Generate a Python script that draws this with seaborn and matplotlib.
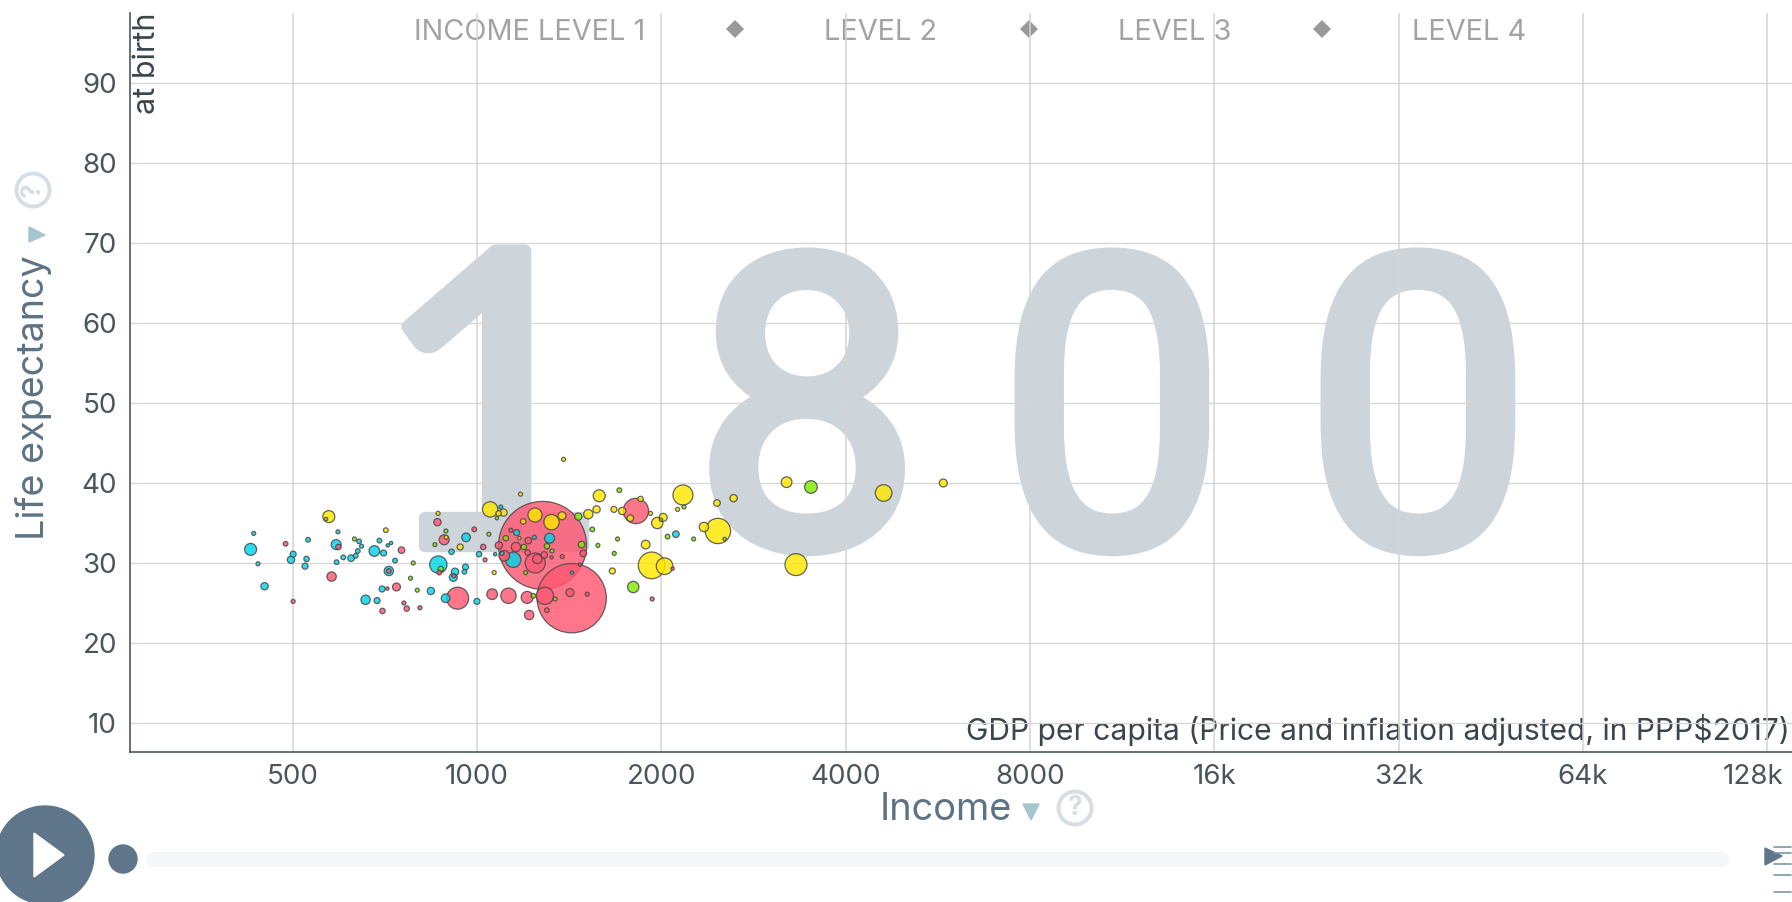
import matplotlib
matplotlib.use("Agg")
import matplotlib.pyplot as plt
import matplotlib.patheffects as pe
from matplotlib.patches import Circle, FancyBboxPatch, Polygon
from matplotlib.transforms import ScaledTranslation
import seaborn as sns
import pandas as pd

# values: income, life expectancy, population (millions)
africa_income = [427, 432, 439, 450, 501, 497, 530, 527, 524, 593, 589, 590, 605, 623, 634, 642, 648, 639, 680, 704,
                 693, 715, 724, 735, 718, 700, 658, 687, 841, 960, 909, 865, 921, 958, 954, 915, 889, 1000, 1008, 1094,
                 1071, 1314, 1146, 1161, 1241, 2113, 1429, 1099]
africa_life = [31.7, 33.7, 29.9, 27.1, 31.1, 30.4, 32.9, 30.5, 29.6, 33.9, 32.3, 30.1, 30.7, 30.6, 30.9, 32.7, 32.1, 31.5, 31.5, 31.25,
               32.8, 32.2, 32.5, 30.3, 29.0, 26.75, 25.4, 25.3, 26.5, 33.2, 31.4, 29.8, 28.9, 29.5, 28.9, 28.2, 25.6, 25.2, 31.1, 37.0,
               31.1, 33.1, 30.4, 33.8, 33.2, 33.6, 28.8, 31.2]
africa_pop = [5.9, 0.66, 0.66, 2.2, 1.5, 2.2, 0.9, 1.2, 1.5, 0.66, 4.1, 0.9, 0.9, 1.8, 0.9, 0.9, 0.66, 0.9, 4.7, 1.5,
              0.9, 0.46, 0.46, 0.9, 3.6, 1.5, 3.6, 1.5, 2.2, 3.1, 1.2, 12.4, 2.2, 1.5, 0.9, 2.6, 3.1, 1.5, 1.2, 0.66,
              0.46, 4.1, 9.7, 1.5, 0.66, 1.8, 0.46, 0.66]

asia_income = [487, 501, 594, 579, 753, 718, 739, 714, 701, 760, 768, 807, 862, 884, 990, 868, 917, 930, 1059, 1126,
               1208, 1217, 1024, 1031, 1280, 1428, 1136, 1213, 1158, 1245, 1255, 1086, 1108, 1210, 1288, 1378, 1324, 1492, 1818, 2087,
               1933, 1291, 1419, 1514, 1473, 1301]
asia_life = [32.4, 25.2, 32.0, 28.3, 31.6, 29.0, 27.0, 26.8, 24.0, 25.0, 24.3, 24.4, 35.1, 32.9, 34.2, 28.8, 28.4, 25.6, 26.1, 25.9,
             25.7, 23.5, 32.0, 30.4, 32.2, 25.6, 34.1, 32.8, 32.0, 30.0, 30.5, 32.2, 30.9, 31.3, 31.0, 30.8, 30.7, 31.2, 36.5, 29.3,
             25.5, 25.9, 26.3, 26.1, 29.8, 24.1]
asia_pop = [0.9, 0.66, 1.2, 3.6, 1.8, 0.9, 2.6, 0.46, 1.2, 0.66, 1.2, 0.66, 2.2, 4.1, 0.9, 0.9, 0.66, 19.9, 4.7, 9.7,
            5.9, 3.6, 1.2, 0.66, 319, 198, 0.66, 1.8, 3.6, 16.5, 3.6, 2.2, 4.7, 1.2, 1.8, 0.66, 0.46, 1.8, 26.4, 0.46,
            0.66, 12.4, 2.6, 0.66, 0.46, 0.9]

americas_income = [567, 631, 787, 779, 799, 890, 854, 873, 1046, 1078, 1193, 1115, 1301, 1326, 1482, 1464, 1543, 1576, 1697, 1676,
                   1708, 1998, 2048, 2259, 2178, 2538, 1800, 1342, 1236, 1201, 3511]
americas_life = [35.5, 33.0, 30.0, 28.1, 26.6, 34.0, 32.3, 29.25, 33.6, 35.6, 32.0, 33.1, 32.1, 31.5, 32.3, 35.8, 34.2, 32.2, 33.0, 31.2,
                 39.1, 35.4, 33.3, 33.0, 37.0, 33.0, 27.0, 25.5, 25.9, 28.8, 39.5]
americas_pop = [0.46, 0.66, 0.66, 0.66, 0.66, 0.66, 0.66, 1.2, 0.66, 0.46, 1.2, 1.2, 1.2, 0.66, 1.8, 2.2, 0.9, 0.66, 0.66, 0.66,
                0.9, 0.46, 0.9, 0.66, 0.66, 0.46, 5.3, 0.66, 0.9, 0.66, 6.6]

europe_income = [573, 710, 864, 891, 939, 1067, 1051, 1105, 1085, 1178, 1244, 1324, 1377, 1190, 1173, 1520, 1568, 1674, 1727, 1584,
                 1385, 1850, 1780, 1921, 1970, 2015, 1886, 1929, 2025, 2170, 2127, 2466, 2625, 2348, 2475, 1664, 3204, 4615, 5775, 3319]
europe_life = [35.8, 34.1, 36.2, 33.2, 32.0, 28.8, 36.7, 36.3, 36.2, 38.6, 36.0, 35.1, 35.9, 35.2, 33.1, 36.1, 36.7, 36.7, 36.5, 38.4,
               42.96, 38.0, 35.6, 36.2, 35.0, 35.7, 32.3, 29.7, 29.6, 38.5, 36.7, 37.5, 38.1, 34.5, 34.0, 29.0, 40.1, 38.75, 40.0, 29.8]
europe_pop = [5.9, 0.9, 0.66, 0.66, 1.5, 0.66, 9.7, 2.2, 1.2, 0.66, 8.1, 9.7, 2.6, 1.2, 0.46, 3.6, 2.2, 1.5, 2.2, 5.9,
              0.66, 1.2, 1.8, 0.66, 5.3, 2.6, 3.1, 29.3, 11.4, 16.5, 0.66, 1.8, 2.2, 3.6, 26.4, 1.5, 4.7, 11.4, 2.6, 19.9]

x_ticks = [500, 1000, 2000, 4000, 8000, 16000, 32000, 64000, 128000]
x_tick_labels = ["500", "1000", "2000", "4000", "8000", "16k", "32k", "64k", "128k"]
y_ticks = [10, 20, 30, 40, 50, 60, 70, 80, 90]
year_digits = ["1", "8", "0", "0"]
level_labels = ["INCOME LEVEL 1", "LEVEL 2", "LEVEL 3", "LEVEL 4"]

region_colors = {"africa": "#00d5e9", "asia": "#ff5872", "americas": "#7feb00", "europe": "#ffe700"}

frames = []
for name, inc, life, pop in [("africa", africa_income, africa_life, africa_pop),
                             ("asia", asia_income, asia_life, asia_pop),
                             ("americas", americas_income, americas_life, americas_pop),
                             ("europe", europe_income, europe_life, europe_pop)]:
    frames.append(pd.DataFrame({"income": inc, "life": life, "pop": pop, "region": name}))
# big bubbles first so the small ones stay on top
df = pd.concat(frames).sort_values("pop", ascending=False)

sns.set_theme(style="white")
plt.rcParams["font.family"] = ["Inter", "DejaVu Sans"]

W, H = 1792, 902
fig = plt.figure(figsize=(W / 100, H / 100), dpi=100)

# page layer in pixel coordinates, for the year and the player controls
page = fig.add_axes([0, 0, 1, 1], zorder=0)
page.set_xlim(0, W)
page.set_ylim(H, 0)
page.axis("off")

ax = fig.add_axes([129.5 / W, 1 - 751.7 / H, (1791.5 - 129.5) / W, (751.7 - 13) / H], zorder=1)
ax.patch.set_visible(False)

sns.scatterplot(data=df, x="income", y="life", hue="region", palette=region_colors,
                size="pop", sizes=(12.57 * 0.46, 12.57 * 319), size_norm=(0.46, 319),
                alpha=0.82, edgecolor="#444444", linewidth=0.9, legend=False, zorder=3, ax=ax)

ax.set_xscale("log")
ax.set_xlim(270.8, 140200)
ax.set_ylim(6.41, 98.75)
ax.set_xticks(x_ticks)
ax.set_xticklabels(x_tick_labels)
ax.minorticks_off()
ax.set_yticks(y_ticks)
ax.set_xlabel("")
ax.set_ylabel("")
ax.tick_params(axis="both", length=0, labelsize=20, labelcolor="#4a555c", pad=9)
# last label is pulled back inside the figure
last = ax.get_xticklabels()[-1]
last.set_transform(last.get_transform() + ScaledTranslation(-0.14, 0, fig.dpi_scale_trans))
ax.xaxis.grid(True, color="#d4d4d4", lw=1.1)
ax.yaxis.grid(True, color="#d6d6d6", lw=0.9)
ax.set_axisbelow(True)
for side in ["top", "right"]:
    ax.spines[side].set_visible(False)
for side in ["left", "bottom"]:
    ax.spines[side].set_color("#4c5a60")
    ax.spines[side].set_linewidth(1.2)

# year in the background
year_col = "#cdd4da"
for digit, cx, fam, fs in zip(year_digits, [493, 807, 1112, 1418], ["Lato", "Roboto", "Roboto", "Roboto"],
                              [296, 292, 292, 292]):
    page.text(cx, 546, digit, fontsize=fs, family=fam, color=year_col, ha="center", va="baseline",
              path_effects=[pe.withStroke(linewidth=9, foreground=year_col)])

# axis titles
label_col = "#5d7384"
page.text(34, 540, "Life expectancy", rotation=90, fontsize=27.2, color=label_col, ha="center", va="bottom")
page.text(880, 810, "Income", fontsize=27.4, color=label_col, ha="left", va="center")
page.text(147, 13, "at birth", rotation=90, fontsize=22, color="#3a454c", ha="center", va="top")
page.text(1790, 730, "GDP per capita (Price and inflation adjusted, in PPP$2017)", fontsize=21.6,
          color="#3a454c", ha="right", va="center")

# sort arrows and help icons
page.add_patch(Polygon([(29, 227), (29, 242), (45, 235)], color="#a5c6ce"))
page.add_patch(Polygon([(1023, 804), (1039, 804), (1031, 820)], color="#a5c6ce"))
ring = "#d5dee4"
page.add_patch(Circle((33, 190), 16.5, fill=False, ec=ring, lw=2.8))
page.text(33, 190, "?", rotation=90, fontsize=19, fontweight="bold", color=ring, ha="center", va="center")
page.add_patch(Circle((1075, 808), 16.5, fill=False, ec=ring, lw=2.8))
page.text(1075, 808, "?", fontsize=19, fontweight="bold", color=ring, ha="center", va="center")

# level strip on top
for label, lx in zip(level_labels, [414, 824, 1118, 1412]):
    page.text(lx, 32, label, fontsize=20.8, color="#a3a3a3", ha="left", va="center")
page.plot([735, 1029, 1322], [29, 29, 29], ls="", marker="D", ms=9.5, color="#999999", mew=0)

# player
player = "#5f768a"
page.add_patch(Circle((45, 855), 49, color=player))
page.add_patch(Polygon([(34, 833), (64, 855), (34, 877)], color="white"))
page.add_patch(FancyBboxPatch((147, 852), 1582, 15, boxstyle="round,pad=0,rounding_size=7", color="#f4f6f8", lw=0))
page.add_patch(Circle((123, 859), 14, color=player))
page.add_patch(Polygon([(1765, 848), (1765, 865), (1782, 856)], color=player))
for ly in [847, 853, 864, 875, 892]:
    page.plot([1774, 1791], [ly, ly], color="#7e95a6", lw=1.2)

fig.savefig("out.png", dpi=100)
